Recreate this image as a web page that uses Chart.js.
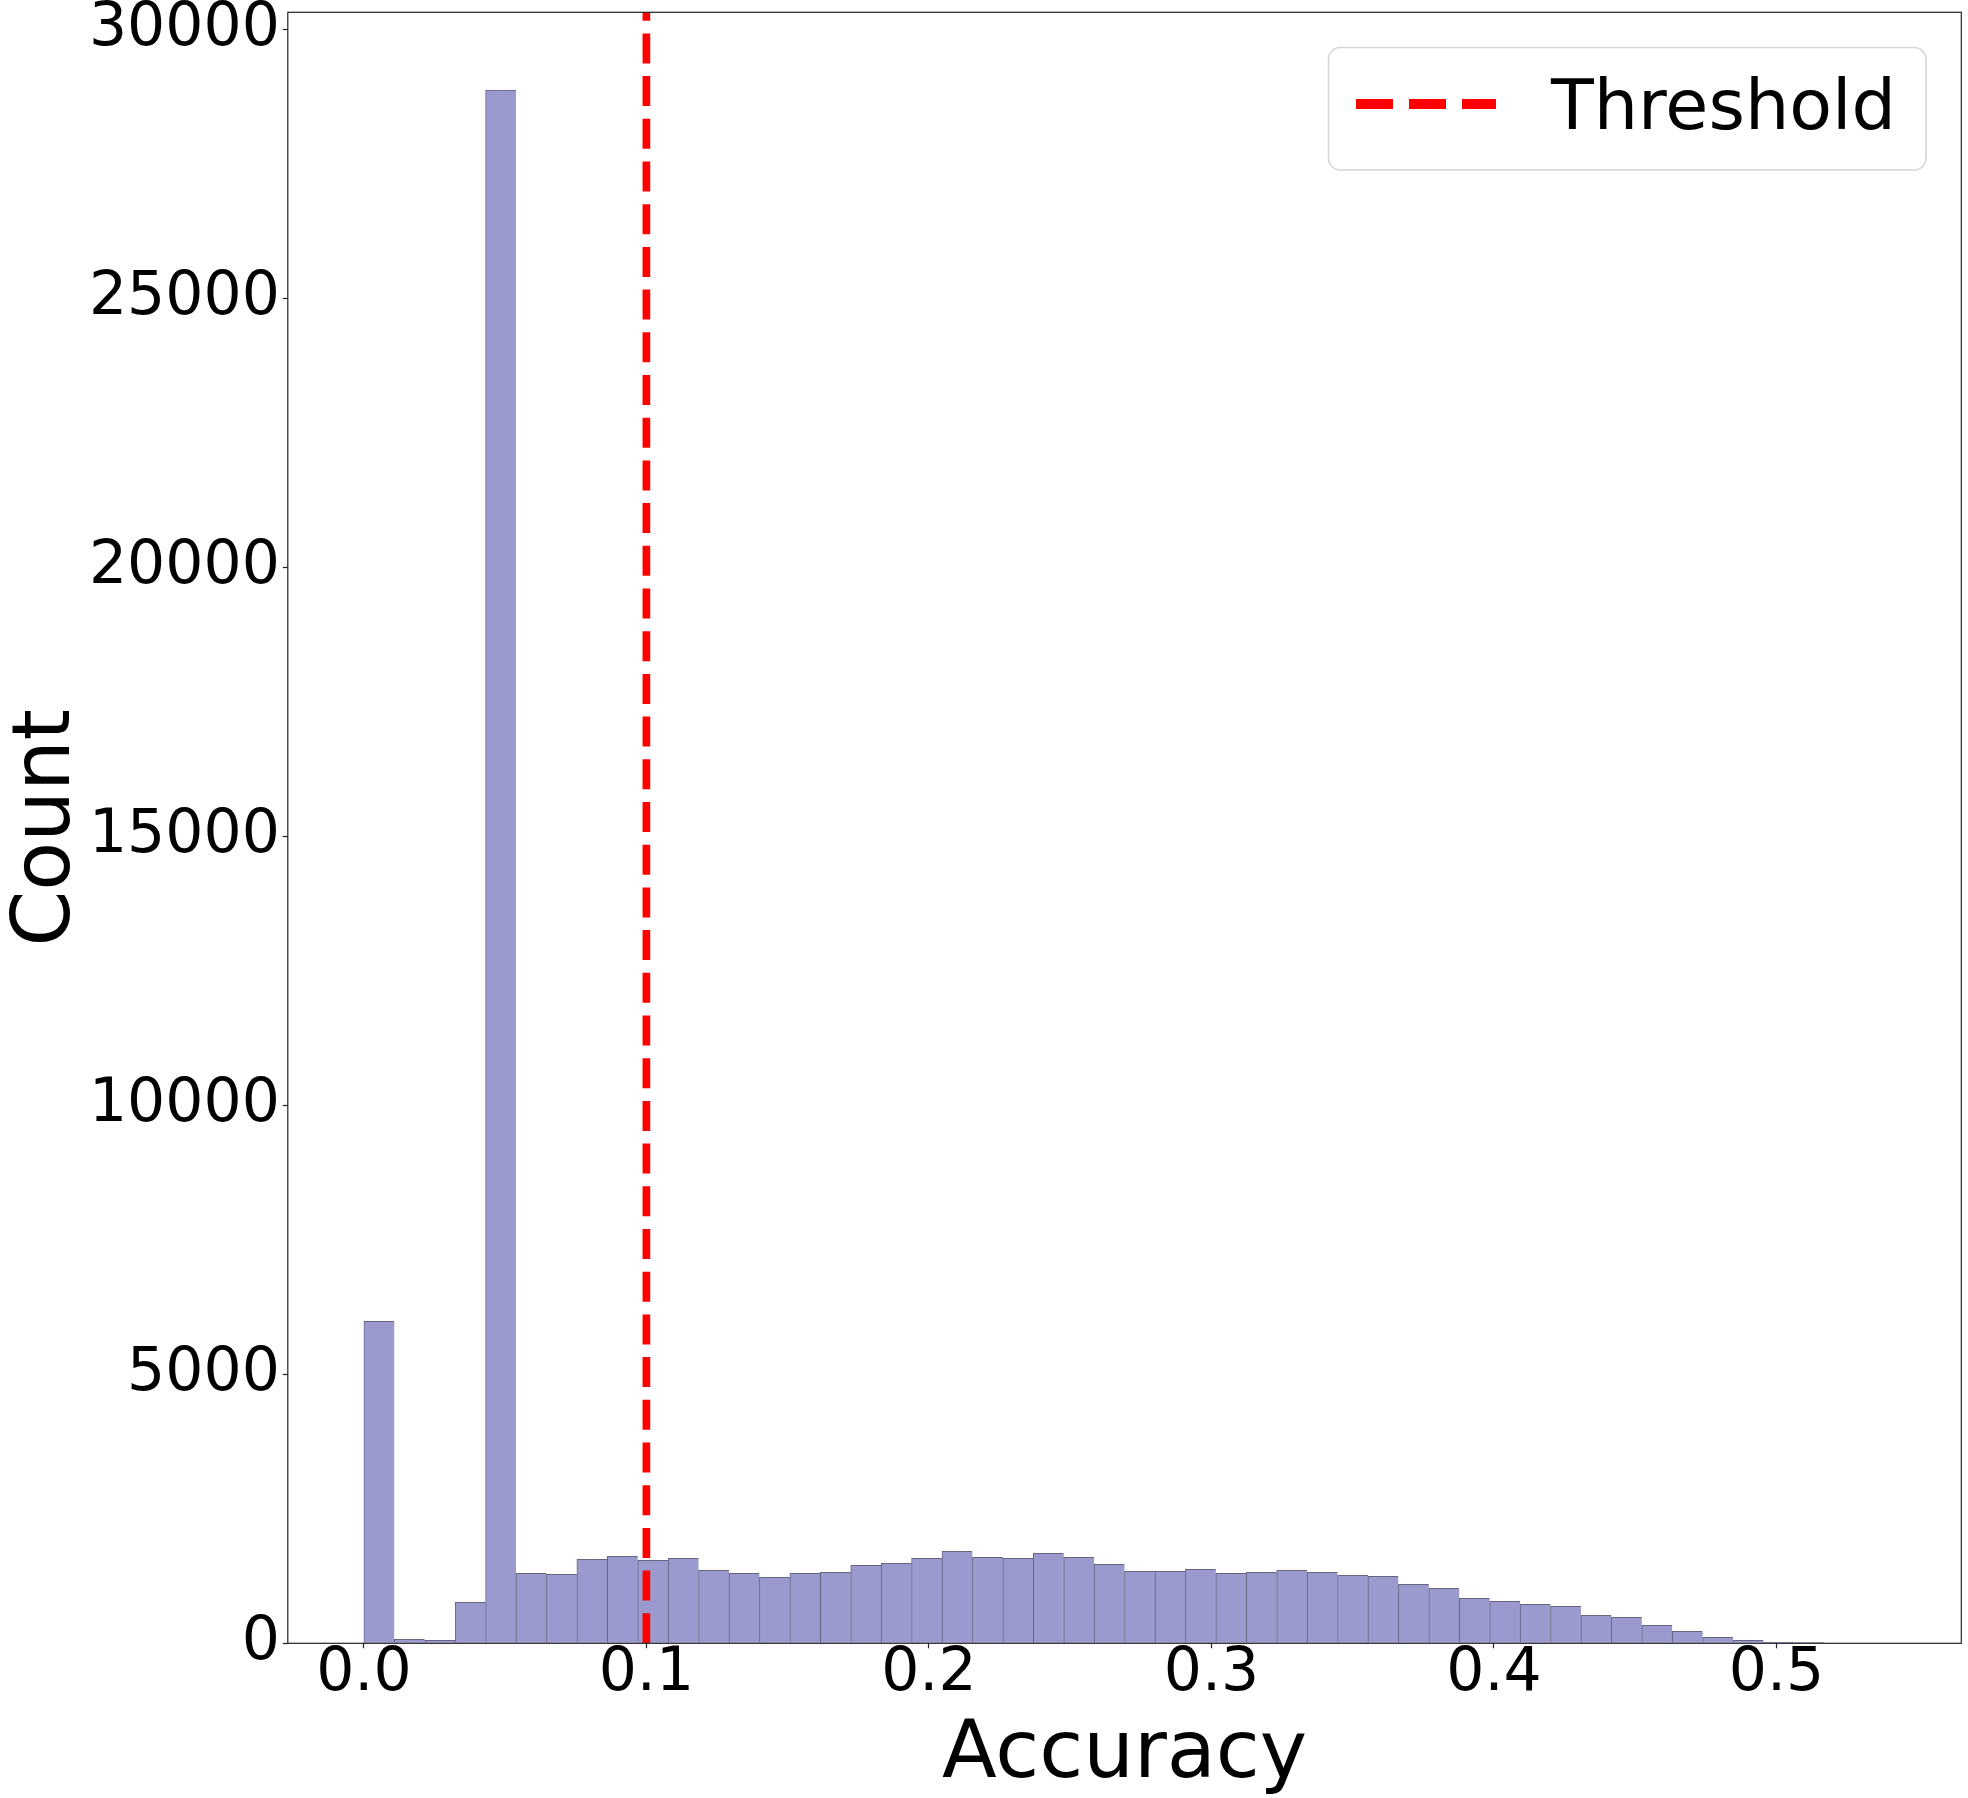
<!DOCTYPE html>
<html>
<head>
<meta charset="utf-8">
<script src="https://cdn.jsdelivr.net/npm/chart.js@4.4.1/dist/chart.umd.min.js"></script>
<style>
  html, body { margin: 0; padding: 0; background: #fff; }
  canvas { display: block; }
</style>
</head>
<body>
<canvas id="histChart" width="1968" height="1798"></canvas>
<script>
// histogram: 50 bins from 0 to 0.5385
const binStart = 0;
const binWidth = 0.01077;
const counts = [
  5985, 74, 56, 762, 28880, 1301, 1283, 1561, 1617, 1543,
  1580, 1357, 1301, 1227, 1301, 1320, 1450, 1487, 1580, 1710,
  1599, 1580, 1673, 1599, 1468, 1338, 1338, 1375, 1301, 1320,
  1357, 1320, 1264, 1245, 1097, 1022, 836, 781, 725, 688,
  520, 483, 335, 223, 112, 56, 19, 14, 0, 0
];
const threshold = 0.1;
const thresholdLabel = "Threshold";
const xTicks = [0.0, 0.1, 0.2, 0.3, 0.4, 0.5];
const yTicks = [0, 5000, 10000, 15000, 20000, 25000, 30000];
const xRange = [-0.02693, 0.56543];
const yRange = [0, 30327];

const histData = counts.map((c, i) => ({ x: binStart + (i + 0.5) * binWidth, y: c }));
const lineData = [{ x: threshold, y: yRange[0] }, { x: threshold, y: yRange[1] }];

// frame + legend drawn by hand, matplotlib style
const framePlugin = {
  id: "frame",
  afterDatasetsDraw(chart) {
    const { ctx, chartArea: a } = chart;
    ctx.save();
    ctx.strokeStyle = "#222";
    ctx.lineWidth = 1.2;
    ctx.strokeRect(a.left, a.top, a.right - a.left, a.bottom - a.top);
    ctx.restore();
  },
  afterDraw(chart) {
    const ctx = chart.ctx;
    const ds = chart.data.datasets[0];
    ctx.save();
    ctx.beginPath();
    ctx.roundRect(1328.5, 47.5, 597.5, 122.5, 12);
    ctx.fillStyle = "rgba(255,255,255,0.8)";
    ctx.fill();
    ctx.strokeStyle = "#d6d6d6";
    ctx.lineWidth = 1.6;
    ctx.stroke();

    ctx.beginPath();
    ctx.setLineDash([37, 16]);
    ctx.strokeStyle = ds.borderColor;
    ctx.lineWidth = 10;
    ctx.moveTo(1356, 104);
    ctx.lineTo(1496, 104);
    ctx.stroke();
    ctx.setLineDash([]);

    ctx.fillStyle = "#000";
    ctx.font = "70px 'DejaVu Sans'";
    ctx.textBaseline = "alphabetic";
    ctx.textAlign = "left";
    ctx.fillText(ds.label, 1551, 129);
    ctx.restore();
  }
};

const noPad = (scale) => {
  scale.paddingTop = 0;
  scale.paddingBottom = 0;
  scale.paddingLeft = 0;
  scale.paddingRight = 0;
};

const ctx = document.getElementById("histChart").getContext("2d");

new Chart(ctx, {
  data: {
    datasets: [
      {
        type: "line",
        label: thresholdLabel,
        data: lineData,
        borderColor: "#ff0000",
        borderWidth: 7.7,
        borderDash: [30, 12.7],
        pointRadius: 0,
        fill: false,
        order: 0,
      },
      {
        type: "bar",
        label: "Count",
        data: histData,
        backgroundColor: "#9a9acf",
        borderColor: "rgba(50,50,85,0.75)",
        borderWidth: { top: 1, left: 1, right: 0, bottom: 0 },
        borderSkipped: false,
        barPercentage: 1,
        categoryPercentage: 1,
        order: 1,
      },
    ],
  },
  options: {
    responsive: false,
    animation: false,
    events: [],
    layout: { padding: { left: 0, right: 6.7, top: 12.3, bottom: 0 } },
    plugins: {
      legend: { display: false },
      tooltip: { enabled: false },
    },
    scales: {
      x: {
        type: "linear",
        offset: false,
        min: xRange[0],
        max: xRange[1],
        afterFit: (scale) => { scale.height = 154.7; noPad(scale); },
        afterBuildTicks: (scale) => { scale.ticks = xTicks.map((v) => ({ value: v })); },
        ticks: {
          callback: (v) => v.toFixed(1),
          font: { family: "'DejaVu Sans'", size: 60 },
          color: "#000",
          padding: -10,
          maxRotation: 0,
          autoSkip: false,
        },
        grid: {
          offset: false,
          drawOnChartArea: false,
          drawTicks: true,
          tickLength: 5,
          tickColor: "#222",
          tickWidth: 1.2,
        },
        border: { display: false },
        title: {
          display: true,
          text: "Accuracy",
          color: "#000",
          font: { family: "'DejaVu Sans'", size: 80, lineHeight: 1.0 },
          padding: { top: 0, bottom: 2 },
        },
      },
      y: {
        type: "linear",
        min: yRange[0],
        max: yRange[1],
        afterFit: (scale) => { scale.width = 287.8; noPad(scale); },
        afterBuildTicks: (scale) => { scale.ticks = yTicks.map((v) => ({ value: v })); },
        ticks: {
          callback: (v) => String(v),
          font: { family: "'DejaVu Sans'", size: 60 },
          color: "#000",
          padding: 3,
          autoSkip: false,
        },
        grid: {
          drawOnChartArea: false,
          drawTicks: true,
          tickLength: 5,
          tickColor: "#222",
          tickWidth: 1.2,
        },
        border: { display: false },
        title: {
          display: true,
          text: "Count",
          color: "#000",
          font: { family: "'DejaVu Sans'", size: 80 },
          padding: { top: 0, bottom: 0 },
        },
      },
    },
  },
  plugins: [framePlugin],
});
</script>
</body>
</html>
